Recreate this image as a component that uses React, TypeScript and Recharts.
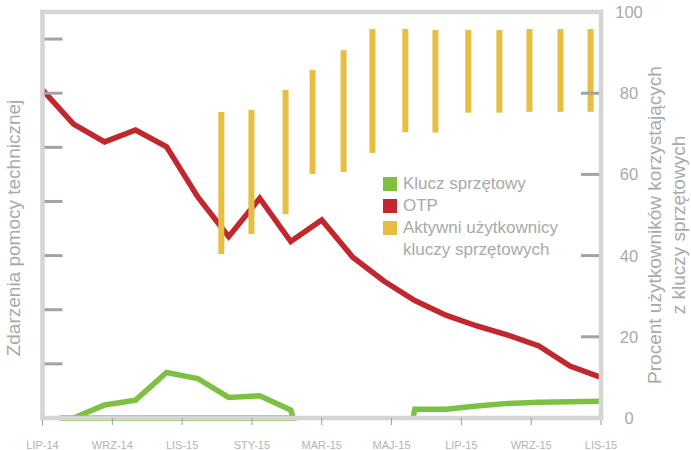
import React from 'react'
import { ComposedChart, Line, Bar, XAxis, YAxis, Legend } from 'recharts'

// x positions are in data-point units: 19 evenly spaced samples, 0..18
const X_TICKS = [0, 2.25, 4.5, 6.75, 9, 11.25, 13.5, 15.75, 18]
const X_LABELS = ['LIP-14', 'WRZ-14', 'LIS-15', 'STY-15', 'MAR-15', 'MAJ-15', 'LIP-15', 'WRZ-15', 'LIS-15']

const OTP_X = [0, 1, 2, 3, 4, 5, 6, 7, 8, 9, 10, 11, 12, 13, 14, 15, 16, 17, 18]
const OTP = [6.06, 5.43, 5.1, 5.32, 5.01, 4.09, 3.35, 4.06, 3.26, 3.66, 2.97, 2.53, 2.17, 1.9, 1.7, 1.53, 1.33, 0.96, 0.75]

const KEY_X = [0.55, 1, 2, 3, 4, 5, 6, 7, 8, 8.08, 0.55, 10, 11.94, 12, 13, 14, 15, 16, 17, 18]
const KEY = [0, 0, 0.24, 0.33, 0.84, 0.73, 0.38, 0.41, 0.15, 0, 0, null, 0, 0.16, 0.16, 0.22, 0.27, 0.29, 0.3, 0.31]

const ACTIVE_X = [5.78, 6.75, 7.85, 8.72, 9.72, 10.65, 11.71, 12.68, 13.74, 14.74, 15.71, 16.71, 17.68]
const ACTIVE_LOW = [40.4, 45.3, 50.2, 60.1, 60.6, 65.3, 70.4, 70.3, 75.2, 75.2, 75.4, 75.4, 75.4]
const ACTIVE_HIGH = [75.4, 75.9, 80.8, 85.7, 90.6, 95.8, 95.8, 95.6, 95.6, 95.6, 95.8, 95.8, 95.8]

const LEFT_TICKS = [1, 2, 3, 4, 5, 6, 7]
const RIGHT_TICKS = [0, 20, 40, 60, 80, 100]
const LEGEND_ORDER = ['Klucz sprzętowy', 'OTP', 'Aktywni użytkownicy kluczy sprzętowych']

const FONT = '"Liberation Sans", Arial, Helvetica, sans-serif'
const GREEN = '#7cc142'
const RED = '#c1272d'
const YELLOW = '#e5be42'
const FRAME = { stroke: '#d5d5d5', strokeWidth: 4.5, strokeLinecap: 'square' as const }
const TICK_MARK = '#a3a3a3'
const TEXT = '#a9a9a9'

const otpData = OTP_X.map((x, i) => ({ x, v: OTP[i] }))
const keyData = KEY_X.map((x, i) => ({ x, v: KEY[i] }))
const barData = ACTIVE_X.map((x, i) => ({ x, range: [ACTIVE_LOW[i], ACTIVE_HIGH[i]] }))

// left axis: only short marks drawn inwards from the frame
const LeftTick = (p: any) => (
  <line x1={p.x + 2} x2={p.x + 20} y1={p.y} y2={p.y} stroke={TICK_MARK} strokeWidth={3} />
)

const RightTick = (p: any) => {
  const v = p.payload.value
  return (
    <g>
      {v > 0 && v < 100 && <line x1={p.x - 48} x2={p.x - 30} y1={p.y} y2={p.y} stroke={TICK_MARK} strokeWidth={3} />}
      <text x={p.x} y={p.y} dy="0.36em" textAnchor="middle" fontSize={16.5} fill={TEXT} fontFamily={FONT}>{v}</text>
    </g>
  )
}

const LeftTitle = () => (
  <text transform="rotate(-90, 20, 228)" x={20} y={228} textAnchor="middle" fontSize={19} fill={TEXT} fontFamily={FONT}>
    Zdarzenia pomocy technicznej
  </text>
)

const RightTitle = () => (
  <text transform="rotate(-90, 661, 225)" x={661} y={225} textAnchor="middle" fontSize={19} fill={TEXT} fontFamily={FONT}>
    <tspan x={661} dy={0}>Procent użytkowników korzystających</tspan>
    <tspan x={661} dy={23.5}>z kluczy sprzętowych</tspan>
  </text>
)

const LegendBox = (props: any) => {
  const items = [...(props.payload || [])].sort((a: any, b: any) => LEGEND_ORDER.indexOf(a.value) - LEGEND_ORDER.indexOf(b.value))
  return (
    <div style={{ fontFamily: FONT, fontSize: 17, lineHeight: '22px', color: TEXT }}>
      {items.map((e: any) => (
        <div key={e.value} style={{ display: 'flex', alignItems: 'flex-start' }}>
          <span style={{ width: 14, height: 14, background: e.color, marginTop: 4, marginRight: 6, flex: 'none' }} />
          <span style={{ width: 175 }}>{e.value}</span>
        </div>
      ))}
    </div>
  )
}

export default function App() {
  return (
    <div style={{ position: 'absolute', left: 0, top: 0, background: '#fff' }}>
      <ComposedChart width={691} height={450} data={barData} margin={{ top: 11, right: 0, bottom: 0, left: 0 }}>
        <XAxis xAxisId="m" dataKey="x" type="number" domain={[0, 18]} ticks={X_TICKS} interval={0}
          tickFormatter={(_v: number, i: number) => X_LABELS[i]} height={32} tickSize={7} tickMargin={16}
          axisLine={FRAME} tickLine={{ stroke: '#9b9b9b' }} tick={{ fontSize: 11, fill: '#b3b3b3', fontFamily: FONT }} />
        <XAxis xAxisId="b" dataKey="x" type="number" domain={[0, 18]} height={0} hide />
        <XAxis xAxisId="top" orientation="top" type="number" domain={[0, 18]} height={1} tick={false} tickLine={false} axisLine={FRAME} />
        <YAxis yAxisId="l" type="number" domain={[0, 7.5]} ticks={LEFT_TICKS} width={42.5} tick={<LeftTick />}
          tickSize={0} tickMargin={0} tickLine={false} axisLine={FRAME} label={<LeftTitle />} />
        <YAxis yAxisId="r" orientation="right" type="number" domain={[0, 100]} ticks={RIGHT_TICKS} width={90}
          tickSize={0} tickMargin={28} tickLine={false} tick={<RightTick />} axisLine={FRAME} label={<RightTitle />} />
        <Line xAxisId="m" yAxisId="l" data={keyData} dataKey="v" name="Klucz sprzętowy" stroke={GREEN} strokeWidth={5.5}
          strokeLinejoin="miter" dot={false} activeDot={false} isAnimationActive={false} />
        <Line xAxisId="m" yAxisId="l" data={otpData} dataKey="v" name="OTP" stroke={RED} strokeWidth={5.5}
          strokeLinejoin="miter" dot={false} activeDot={false} isAnimationActive={false} />
        <Bar xAxisId="b" yAxisId="r" dataKey="range" name="Aktywni użytkownicy kluczy sprzętowych" fill={YELLOW}
          barSize={6} zIndex={450} isAnimationActive={false} />
        <Legend layout="vertical" align="center" verticalAlign="middle" width={200}
          wrapperStyle={{ left: 383, top: 172.5, width: 200 }} content={<LegendBox />} />
      </ComposedChart>
    </div>
  )
}
